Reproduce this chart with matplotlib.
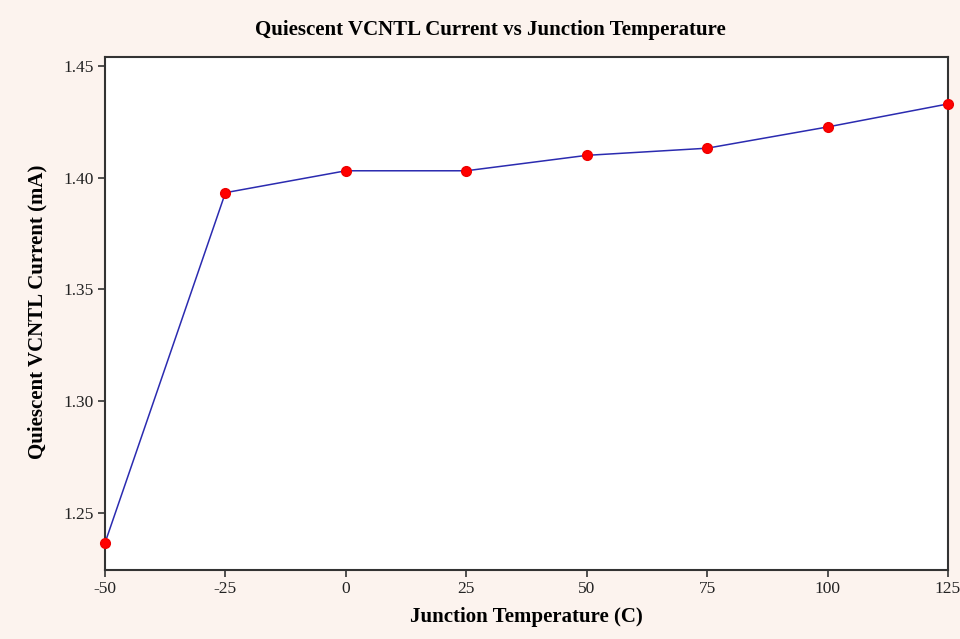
import matplotlib
matplotlib.use("Agg")
import matplotlib.pyplot as plt

temps = [-50, -25, 0, 25, 50, 75, 100, 125]
current = [1.2366, 1.3933, 1.4031, 1.4031, 1.4100, 1.4132, 1.4227, 1.4330]
xticks = [-50, -25, 0, 25, 50, 75, 100, 125]
yticks = [1.25, 1.30, 1.35, 1.40, 1.45]

plt.rcParams['font.family'] = ['Liberation Serif', 'DejaVu Serif']

bg = '#fcf3ee'
W, H = 960, 639
fig = plt.figure(figsize=(9.6, 6.39), dpi=100, facecolor=bg)
ax = fig.add_axes([105 / W, 1 - 570 / H, (948 - 105) / W, (570 - 57) / H])
ax.set_facecolor('white')

ax.plot(temps, current, color='#2b2bb0', linewidth=1.1, zorder=2, clip_on=False)
ax.plot(temps, current, linestyle='none', marker='o', markersize=7,
        color='#ff0000', markeredgecolor='#ee0000', zorder=3, clip_on=False)

ax.set_xlim(-50, 125)
ax.set_ylim(1.2245, 1.454)
ax.set_xticks(xticks)
ax.set_xticklabels([str(t) for t in xticks])
ax.set_yticks(yticks)
ax.set_yticklabels([f"{v:.2f}" for v in yticks])

for s in ax.spines.values():
    s.set_color('#333333')
    s.set_linewidth(1.5)
ax.tick_params(direction='out', length=5, width=1.2, color='#333333',
               labelsize=12.5, labelcolor='#222222', pad=3)

fig.text(490 / W, 1 - 30 / H, 'Quiescent VCNTL Current vs Junction Temperature',
         fontsize=15, fontweight='bold', ha='center', va='center')
fig.text(526 / W, 1 - 617 / H, 'Junction Temperature (C)',
         fontsize=15, fontweight='bold', ha='center', va='center')
fig.text(37 / W, 1 - 312 / H, 'Quiescent VCNTL Current (mA)',
         fontsize=15, fontweight='bold', ha='center', va='center', rotation=90)

fig.savefig('out.png', dpi=100, facecolor=bg)
